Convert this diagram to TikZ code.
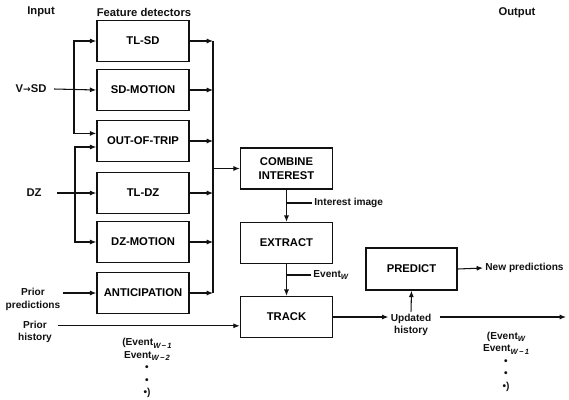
\documentclass[tikz,border=0pt]{standalone}
\usepackage{fontspec}
\setmainfont{Liberation Sans}
\newfontfamily\symfont{DejaVu Sans}
\usetikzlibrary{arrows.meta, positioning, calc}
\definecolor{ink}  {HTML}{111111}
\definecolor{paper}{HTML}{FFFFFF}
\newcommand{\evsub}[1]{\raisebox{-0.45ex}{\fontsize{5.4}{6}\selectfont\itshape #1}}
\tikzset{
  detector/.style={draw=ink, line width=1.1pt, minimum width=2.3cm,
    minimum height=1.02cm, inner sep=0pt, align=center,
    font=\fontsize{8}{9.5}\selectfont\bfseries},
  header/.style={text=ink, inner sep=1pt, font=\fontsize{8}{9}\selectfont\bfseries},
  lbl/.style={text=ink, inner sep=1.5pt, align=center,
    font=\fontsize{7.2}{8.9}\selectfont\bfseries},
  flow/.style={draw=ink, line width=0.75pt, -{Latex[length=4.5pt,width=3.6pt]}},
  wire/.style={draw=ink, line width=0.75pt},
}

\begin{document}
\begin{tikzpicture}[x=0.025cm, y=-0.025cm]
    \fill[paper] (0,0) rectangle (569,399);

    % column headers
    \node[header] (hin)   at (41, 12)  {Input};
    \node[header] (hfeat) at (144, 12) {Feature detectors};
    \node[header] (hout)  at (517, 13) {Output};

    % feature detectors
    \node[detector] (tlsd)  at (143, 41)  {TL-SD};
    \node[detector] (sdmot) at (143, 90)  {SD-MOTION};
    \node[detector] (oot)   at (143, 141) {OUT-OF-TRIP};
    \node[detector] (tldz)  at (143, 193) {TL-DZ};
    \node[detector] (dzmot) at (143, 242) {DZ-MOTION};
    \node[detector] (antic) at (143, 293) {ANTICIPATION};

    % processing chain
    \node[detector] (combine) at (286.5, 168.5) {COMBINE\\INTEREST};
    \node[detector] (extract) at (286.5, 243)   {EXTRACT};
    \node[detector] (track)   at (286.5, 317)   {TRACK};
    \node[detector, minimum width=2.28cm, minimum height=1.05cm]
      (predict) at (411.5, 269) {PREDICT};

    % inputs
    \node[header] (vsd) at (31, 89)  {V{\symfont\fontsize{6.5}{8}\selectfont→}SD};
    \node[header] (dz)  at (34, 193) {DZ};
    \node[lbl] (prpred) at (33, 299.5) {Prior\\predictions};
    \node[lbl] (prhist) at (35, 332)   {Prior\\history};

    \coordinate (sdsplit) at (74, 90);
    \coordinate (dzsplit) at (75, 193);
    \coordinate (bus)     at (213, 0);

    \draw[flow] (vsd.east) ++(6,0) -- (sdmot.west);
    \draw[flow] (sdsplit) |- (tlsd.west);
    \draw[flow] (sdsplit) |- ([yshift=0.19cm]oot.west);
    \draw[flow] (dz.east) ++(14,0) -- (tldz.west);
    \draw[flow] (dzsplit) |- ([yshift=-0.15cm]oot.west);
    \draw[flow] (dzsplit) |- (dzmot.west);
    \draw[flow] (prpred.east |- antic.west) -- (antic.west);

    % collect the detector outputs
    \foreach \n in {tlsd,sdmot,oot,tldz,dzmot,antic}
      \draw[flow] (\n.east) -- (\n.east -| bus);
    \draw[wire] (tlsd.east -| bus) -- (antic.east -| bus);
    \draw[flow] (combine.west -| bus) -- (combine.west);

    % down the chain
    \node[lbl, anchor=west] (intimg) at (312, 203) {Interest image};
    \node[lbl, anchor=west] (eventw) at (311, 275) {Event\evsub{W}};
    \draw[flow] (combine.south) -- (extract.north);
    \draw[wire] (combine.south |- intimg) -- (intimg.west);
    \draw[flow] (extract.south) -- (track.north);
    \draw[wire] (extract.south |- eventw) -- (eventw.west);

    \coordinate (trackin) at ([yshift=-0.22cm]track.west);
    \draw[flow] (prhist.east |- trackin) ++(4,0) -- (trackin);
    \node[lbl] (oldev) at (147, 368)
      {(Event\evsub{W\,−\,1}\\Event\evsub{W\,−\,2}\\•\\•\\•)};

    % update and predict
    \node[lbl] (updhist) at (411, 325) {Updated\\history};
    \draw[flow] (track.east) -- (track.east -| updhist.west);
    \draw[flow] (updhist.north) -- (predict.south);
    \coordinate (histout) at (566, 317);
    \draw[flow] (updhist.east |- histout) ++(6,0) -- (histout);
    \node[lbl, anchor=west] (newpred) at (483, 268) {New predictions};
    \draw[flow] (predict.east) -- (newpred.west);
    \node[lbl] (newev) at (506, 361.5)
      {(Event\evsub{W}\\Event\evsub{W\,−\,1}\\•\\•\\•)};

    \useasboundingbox (0,0) rectangle (569,399);
  \end{tikzpicture}
\end{document}
